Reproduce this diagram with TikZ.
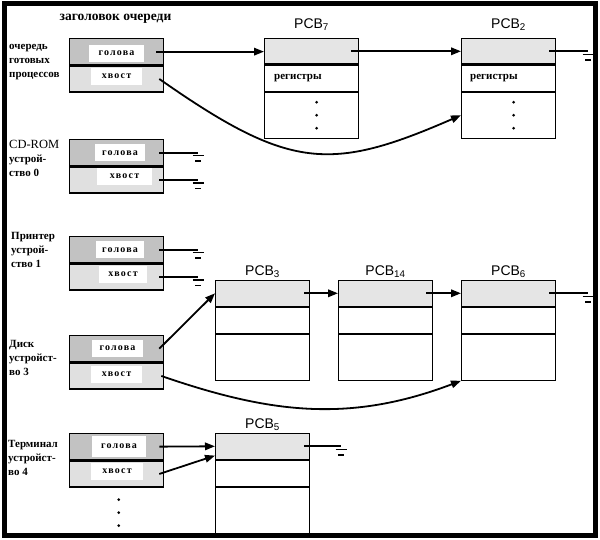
\documentclass[tikz,border=0pt]{standalone}
\usepackage{fontspec}
\setmainfont{Liberation Serif}
\newfontfamily\pcbfont{Liberation Sans}
\usetikzlibrary{arrows.meta,calc}
\begin{document}
\begin{tikzpicture}[x=1pt,y=-1pt,
  hdcell/.style={draw,line width=1.3pt,minimum width=94pt,minimum height=26pt,inner sep=0pt,anchor=north west},
  hdtop/.style={hdcell,fill=black!24},
  hdbot/.style={hdcell,fill=black!12},
  wbox/.style={fill=white,inner sep=0pt,minimum width=52pt,minimum height=17pt,font=\bfseries\fontsize{10}{10}\selectfont\addfontfeature{LetterSpace=12}},
  pcell/.style={draw,line width=1.1pt,minimum width=94pt,inner sep=0pt,anchor=north west},
  ptop/.style={pcell,fill=black!10,minimum height=25.5pt},
  pmid/.style={pcell,fill=white,minimum height=26pt},
  pbot/.style={pcell,fill=white,minimum height=46pt},
  pcblabel/.style={font=\pcbfont\fontsize{14}{14}\selectfont,anchor=south,inner sep=0pt},
  reglabel/.style={font=\bfseries\fontsize{11}{12}\selectfont,anchor=west,inner sep=0pt},
  side/.style={anchor=west,align=left,inner sep=0pt,font=\bfseries\fontsize{11}{14}\selectfont},
  conn/.style={line width=1.8pt},
  arr/.style={conn,-{Triangle[length=10pt,width=7.5pt]}},
  gnd/.pic={\draw[line width=1.4pt] (-5.5,3)--(5.5,3); \draw[line width=1.8pt] (-3,8.5)--(3,8.5);},
  pdot/.style={circle,fill=black,inner sep=0pt,minimum size=3pt}
]
\useasboundingbox (0,0) rectangle (600,540);
\fill[white] (0,0) rectangle (600,540);
\draw[line width=5pt] (4,4) rectangle (595,535);

\node[font=\bfseries\fontsize{13.5}{15}\selectfont] (title) at (115.5,19) {заголовок очереди};

% queue headers
\node[hdtop] (rqh) at (69,38) {};
\node[hdbot] (rqt) at (rqh.south west) {};
\node[hdtop] (cdh) at (69,139) {};
\node[hdbot] (cdt) at (cdh.south west) {};
\node[hdtop] (prh) at (69,236) {};
\node[hdbot] (prt) at (prh.south west) {};
\node[hdtop] (dkh) at (69,335) {};
\node[hdbot] (dkt) at (dkh.south west) {};
\node[hdtop] (tmh) at (69,433) {};
\node[hdbot] (tmt) at (tmh.south west) {};

\node[wbox,minimum width=55pt] (rqhl) at (116.5,53.5) {голова};
\node[wbox,minimum width=51pt] (rqtl) at (116.5,76.5) {хвост};
\node[wbox,minimum width=50pt] (cdhl) at (120,153) {голова};
\node[wbox,minimum width=55pt] (cdtl) at (124.5,176.5) {хвост};
\node[wbox,minimum width=48pt] (prhl) at (120,250) {голова};
\node[wbox,minimum width=48pt] (prtl) at (123,274.5) {хвост};
\node[wbox,minimum width=51pt] (dkhl) at (117.5,348) {голова};
\node[wbox,minimum width=51pt] (dktl) at (116.5,374) {хвост};
\node[wbox,minimum width=54pt,minimum height=21pt] (tmhl) at (119,446.5) {голова};
\node[wbox,minimum width=52pt] (tmtl) at (117,471.5) {хвост};

% side labels
\node[side] (rql) at (9,62) {очередь\\готовых\\процессов};
\node[side] (cdl) at (9,158) {{\mdseries\fontsize{12.5}{14}\selectfont CD-ROM}\\устрой-\\ство 0};
\node[side] (prl) at (11,250) {Принтер\\устрой-\\ство 1};
\node[side] (dkl) at (9,358) {Диск\\устройст-\\во 3};
\node[side] (tml) at (8,458) {Терминал\\устройст-\\во 4};

\node[pdot] (td1) at ($(tmt.south)+(2,12)$) {};
\node[pdot] (td2) at ($(tmt.south)+(2,25)$) {};
\node[pdot] (td3) at ($(tmt.south)+(2,38)$) {};

% PCBs
\foreach \n/\x/\y in {pcb7/264/38, pcb2/461/38, pcb3/215/280, pcb14/338/280, pcb6/461/280, pcb5/215/433}{
  \node[ptop] (\n t) at (\x,\y) {};
  \node[pmid] (\n m) at (\n t.south west) {};
  \node[pbot] (\n b) at (\n m.south west) {};
}
\node[pcblabel] (l7) at ([yshift=7.5pt]pcb7t.north) {PCB\textsubscript{7}};
\node[pcblabel] (l2) at ([yshift=7.5pt]pcb2t.north) {PCB\textsubscript{2}};
\node[pcblabel] (l3) at ([yshift=2.5pt]pcb3t.north) {PCB\textsubscript{3}};
\node[pcblabel] (l14) at ([yshift=2.5pt]pcb14t.north) {PCB\textsubscript{14}};
\node[pcblabel] (l6) at ([yshift=2.5pt]pcb6t.north) {PCB\textsubscript{6}};
\node[pcblabel] (l5) at ([yshift=2.5pt]pcb5t.north) {PCB\textsubscript{5}};

\node[reglabel] (r7) at ([xshift=10pt]pcb7m.west) {регистры};
\node[reglabel] (r2) at ([xshift=9pt]pcb2m.west) {регистры};
\foreach \n in {pcb7,pcb2}{
  \node[pdot] at ($(\n b.center)+(5,-13)$) {};
  \node[pdot] at ($(\n b.center)+(5,0)$) {};
  \node[pdot] at ($(\n b.center)+(5,13)$) {};
}

% connectors
\draw[arr] ([xshift=-8pt]rqh.east) coordinate (s1) -- (s1 -| pcb7t.west);
\draw[arr] ([xshift=-8pt]pcb7t.east) coordinate (s2) -- (s2 -| pcb2t.west);
\draw[arr] ([xshift=-5pt]rqt.east) .. controls +(130,91) and +(-131,57) .. (pcb2b.west);
\draw[conn] ([xshift=-7pt]pcb2t.east) -- ++(39,0) coordinate (g1);
\pic at (g1) {gnd};

\draw[conn] ([xshift=-5pt]cdh.east) -- ++(39,0) coordinate (g2);
\pic at (g2) {gnd};
\draw[conn] ([xshift=-5pt]cdt.east) -- ++(39,0) coordinate (g3);
\pic at (g3) {gnd};
\draw[conn] ([xshift=-5pt]prh.east) -- ++(39,0) coordinate (g4);
\pic at (g4) {gnd};
\draw[conn] ([xshift=-5pt]prt.east) -- ++(39,0) coordinate (g5);
\pic at (g5) {gnd};

\draw[arr] ([xshift=-5pt]dkh.east) -- (pcb3t.west);
\draw[arr] ([xshift=-3pt]dkt.east) .. controls +(110,38) and +(-111,42) .. (pcb6b.south west);
\draw[arr] ([xshift=-6pt]pcb3t.east) coordinate (s3) -- (s3 -| pcb14t.west);
\draw[arr] ([xshift=-7pt]pcb14t.east) coordinate (s4) -- (s4 -| pcb6t.west);
\draw[conn] ([xshift=-7pt]pcb6t.east) -- ++(39,0) coordinate (g6);
\pic at (g6) {gnd};

\draw[arr] ([xshift=-5pt]tmh.east) -- (pcb5t.west);
\draw[arr] ([xshift=-5pt]tmt.east) -- ([yshift=4pt]pcb5t.south west);
\draw[conn] ([xshift=-6pt]pcb5t.east) -- ++(37,0) coordinate (g7);
\pic at (g7) {gnd};
\end{tikzpicture}
\end{document}
